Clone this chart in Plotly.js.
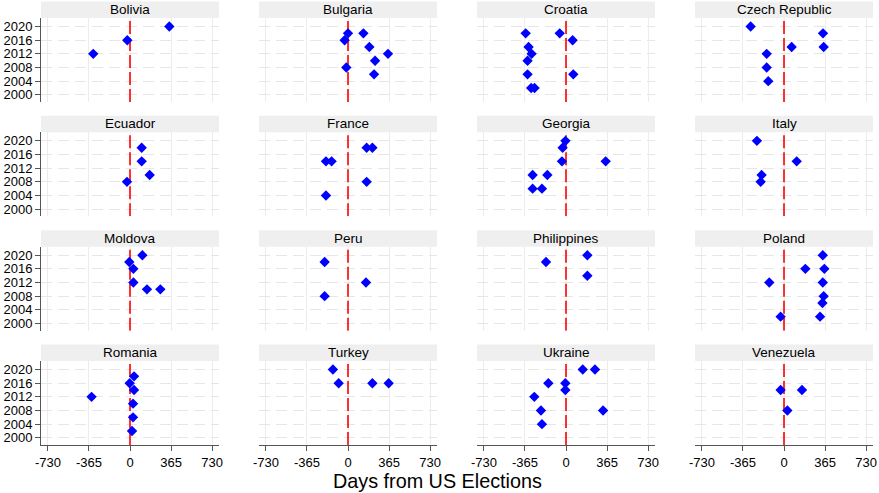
<!DOCTYPE html>
<html>
<head>
<meta charset="utf-8">
<script src="https://cdn.plot.ly/plotly-3.0.1.min.js"></script>
<style>html,body{margin:0;padding:0;background:#fff;}#chart{width:879px;height:493px;}</style>
</head>
<body>
<div id="chart"></div>
<script>
const countries = ["Bolivia","Bulgaria","Croatia","Czech Republic","Ecuador","France","Georgia","Italy","Moldova","Peru","Philippines","Poland","Romania","Turkey","Ukraine","Venezuela"];

const boliviaDays = [350, -24, -327];
const boliviaYears = [2020, 2016, 2012];
const bulgariaDays = [0, 137, -30, 190, 356, 241, -15, 232];
const bulgariaYears = [2018, 2018, 2016, 2014, 2012, 2010, 2008, 2006];
const croatiaDays = [-359, -56, 59, -333, -306, -342, -342, 65, -310, -280];
const croatiaYears = [2018, 2018, 2016, 2014, 2012, 2010, 2006, 2006, 2002, 2002];
const czechDays = [-297, 347, 68, 353, -154, -154, -140];
const czechYears = [2020, 2018, 2014, 2014, 2012, 2008, 2004];
const ecuadorDays = [104, 104, 175, -27];
const ecuadorYears = [2018, 2014, 2010, 2008];
const franceDays = [166, 217, -196, -146, 166, -196];
const franceYears = [2018, 2018, 2014, 2014, 2008, 2004];
const georgiaDays = [-5, -30, -36, 353, -297, -166, -297, -214];
const georgiaYears = [2020, 2018, 2014, 2014, 2010, 2010, 2006, 2006];
const italyDays = [-241, 113, -199, -208];
const italyYears = [2020, 2014, 2010, 2008];
const moldovaDays = [110, -6, 30, 30, 151, 270];
const moldovaYears = [2020, 2018, 2016, 2012, 2010, 2010];
const peruDays = [-208, 160, -208];
const peruYears = [2018, 2012, 2008];
const philippinesDays = [190, -178, 190];
const philippinesYears = [2020, 2018, 2014];
const polandDays = [345, 190, 359, -131, 345, 353, 342, -30, 321];
const polandYears = [2020, 2016, 2016, 2012, 2012, 2008, 2006, 2002, 2002];
const romaniaDays = [36, -3, 36, -342, 27, 27, 18];
const romaniaYears = [2018, 2016, 2014, 2012, 2010, 2006, 2002];
const turkeyDays = [-134, -83, 217, 362];
const turkeyYears = [2020, 2016, 2016, 2016];
const ukraineDays = [149, 258, -157, -6, -6, -282, -223, 330, -214];
const ukraineYears = [2020, 2020, 2016, 2016, 2014, 2012, 2008, 2008, 2004];
const venezuelaDays = [-30, 160, 30];
const venezuelaYears = [2014, 2014, 2008];

const xTicks = [-730, -365, 0, 365, 730];
const yTicks = [2000, 2004, 2008, 2012, 2016, 2020];
const electionDay = 0;
const yRange = [1997.9, 2022.5];

const series = [
  [boliviaDays, boliviaYears], [bulgariaDays, bulgariaYears], [croatiaDays, croatiaYears], [czechDays, czechYears],
  [ecuadorDays, ecuadorYears], [franceDays, franceYears], [georgiaDays, georgiaYears], [italyDays, italyYears],
  [moldovaDays, moldovaYears], [peruDays, peruYears], [philippinesDays, philippinesYears], [polandDays, polandYears],
  [romaniaDays, romaniaYears], [turkeyDays, turkeyYears], [ukraineDays, ukraineYears], [venezuelaDays, venezuelaYears]
];

const W = 879, H = 493;
const FONT = "Liberation Sans, Arial, Helvetica, sans-serif";
const traces = [];
const layout = {
  width: W, height: H,
  margin: {l: 0, r: 0, t: 0, b: 0},
  paper_bgcolor: "#fff", plot_bgcolor: "#fff",
  showlegend: false,
  font: {family: FONT, color: "#000"},
  shapes: [], annotations: []
};

for (let i = 0; i < 16; i++) {
  const r = Math.floor(i / 4), c = i % 4;
  const x0 = 41 + 218 * c, x1 = 219 + 218 * c;
  const T = 18 + 114.33 * r, B = 102 + 114.33 * r;
  const sfx = i === 0 ? "" : String(i + 1);
  // red dashed reference line at election day
  traces.push({
    type: "scatter", mode: "lines",
    x: [electionDay, electionDay], y: yRange,
    xaxis: "x" + sfx, yaxis: "y" + sfx,
    line: {color: "#ff0000", width: 1.6, dash: "13px,4px"},
    hoverinfo: "skip"
  });
  traces.push({
    type: "scatter", mode: "markers",
    x: series[i][0], y: series[i][1],
    xaxis: "x" + sfx, yaxis: "y" + sfx,
    marker: {symbol: "diamond", size: 8, color: "#0000ff", line: {width: 0}},
    hoverinfo: "x+y"
  });
  layout["xaxis" + sfx] = {
    domain: [x0 / W, x1 / W], anchor: "y" + sfx,
    range: [-792, 792], tickvals: xTicks, ticktext: xTicks.map(String),
    showticklabels: r === 3, ticks: r === 3 ? "outside" : "", ticklen: 5, tickcolor: "#555",
    showline: r === 3, linecolor: "#555", linewidth: 1,
    showgrid: true, gridcolor: "#ececec", griddash: "solid", gridwidth: 1,
    zeroline: false, tickfont: {size: 13, family: FONT, color: "#000"}, fixedrange: true
  };
  layout["yaxis" + sfx] = {
    domain: [1 - B / H, 1 - T / H], anchor: "x" + sfx,
    range: yRange, tickvals: yTicks, ticktext: yTicks.map(String),
    showticklabels: c === 0, ticks: c === 0 ? "outside" : "", ticklen: 5, tickcolor: "#555",
    showline: c === 0, linecolor: "#555", linewidth: 1,
    showgrid: true, gridcolor: "#e6e6e6", griddash: "11px,6px", gridwidth: 1,
    zeroline: false, tickfont: {size: 13, family: FONT, color: "#000"}, fixedrange: true
  };
  // header strip
  layout.shapes.push({
    type: "rect", xref: "paper", yref: "paper",
    x0: x0 / W, x1: x1 / W, y0: 1 - T / H, y1: 1 - (T - 16.5) / H,
    fillcolor: "#efefef", line: {width: 0}, layer: "below"
  });
  layout.annotations.push({
    xref: "paper", yref: "paper", x: (x0 + x1) / 2 / W, y: 1 - (T - 8.5) / H,
    text: countries[i], showarrow: false, xanchor: "center", yanchor: "middle",
    font: {size: 13.5, family: FONT, color: "#000"}
  });
}

layout.annotations.push({
  xref: "paper", yref: "paper", x: 437 / W, y: 1 - 481 / H,
  text: "Days from US Elections", showarrow: false, xanchor: "center", yanchor: "middle",
  font: {size: 19.8, family: FONT, color: "#000"}
});

Plotly.newPlot("chart", traces, layout, {displayModeBar: false, staticPlot: true});
</script>
</body>
</html>
